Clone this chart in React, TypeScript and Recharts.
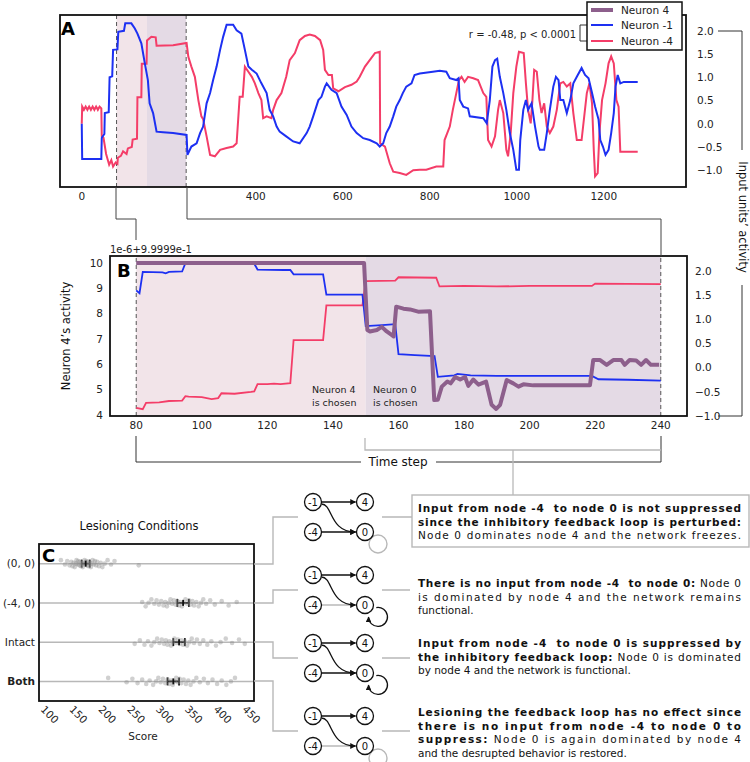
import React from 'react';
import {
  LineChart,
  Line,
  XAxis,
  YAxis,
  ReferenceArea,
  ReferenceLine,
  ScatterChart,
  Scatter,
  ErrorBar,
} from 'recharts';

const FONT = '"DejaVu Sans", sans-serif';
const BLUE = '#1d30f2';
const RED = '#f43d68';
const PURPLE = '#8d5f8c';
const PINK = '#f2e4e9';
const MAUVE = '#e4dae5';
const LIGHT = '#b8b8b8';

// ---- Panel A: input units over the whole run [time, activity]
const aTicks = [0, 400, 600, 800, 1000, 1200];
const activityTicks = [-1, -0.5, 0, 0.5, 1, 1.5, 2];

const aNeuronM1: [number, number][] = [
  [0, 0.0], [1, -0.76], [45, -0.76], [46, -0.3], [52, -0.22], [53, 0.23], [62, 0.25], [64, 1.0], [70, 1.02],
  [72, 1.59], [82, 1.6], [84, 1.98], [97, 2.0], [100, 2.16], [114, 2.16], [122, 2.05], [128, 1.94], [137, 1.73],
  [145, 1.3], [152, 0.94], [156, 0.44], [164, 0.23], [172, -0.17], [187, -0.18], [210, -0.2], [241, -0.24],
  [243, -0.67], [252, -0.49], [264, -0.42], [272, -0.2], [279, -0.06], [287, 0.44], [295, 0.66], [302, 0.94],
  [310, 1.23], [318, 1.59], [325, 1.87], [333, 2.13], [348, 2.13], [356, 2.01], [367, 1.94], [375, 1.59],
  [383, 1.23], [391, 1.16], [402, 1.08], [413, 0.87], [425, 0.66], [432, 0.3], [440, 0.16], [448, -0.06],
  [455, -0.17], [470, -0.27], [486, -0.38], [501, -0.42], [517, -0.2], [524, -0.06], [532, 0.16], [544, 0.51],
  [551, 0.58], [559, 0.8], [563, 0.87], [574, 0.73], [586, 0.66], [597, 0.37], [609, 0.19], [620, -0.06],
  [632, -0.2], [647, -0.31], [662, -0.35], [678, -0.42], [685, -0.49], [693, -0.42], [700, -0.2], [708, -0.06],
  [716, 0.16], [723, 0.37], [731, 0.51], [738, 0.66], [746, 0.8], [758, 0.87], [765, 1.05], [777, 1.08],
  [807, 1.12], [823, 1.14], [838, 1.12], [846, 0.98], [861, 0.94], [866, 0.98], [869, 0.51], [877, 0.37],
  [888, 0.33], [892, 0.16], [923, 0.12], [931, 0.01], [938, 0.51], [944, 1.23], [950, 1.37], [955, 1.4],
  [961, 1.01], [969, 0.66], [976, 0.3], [984, -0.2], [992, -0.56], [999, -0.99], [1005, -0.99], [1008, -0.35],
  [1015, 0.3], [1021, 0.51], [1026, 0.3], [1034, 0.44], [1042, -0.06], [1050, -0.49], [1053, -0.56],
  [1063, -0.56], [1069, -0.2], [1076, 0.3], [1084, 0.8], [1090, 1.01], [1096, 0.94], [1100, 0.51],
  [1107, 0.51], [1115, 0.23], [1123, 0.51], [1130, 0.87], [1138, 1.01], [1149, 1.2], [1157, 1.05],
  [1165, 0.98], [1173, 0.66], [1180, 0.37], [1188, 0.09], [1192, -0.35], [1198, -0.49], [1204, -0.67],
  [1211, -0.56], [1217, -0.2], [1223, 0.23], [1227, 0.8], [1232, 1.05], [1238, 0.87], [1246, 0.9], [1278, 0.9],
];

const aNeuronM4: [number, number][] = [
  [0, 0.0], [1, 0.37], [5, 0.3], [9, 0.37], [13, 0.3], [17, 0.37], [21, 0.3], [25, 0.37], [29, 0.3], [33, 0.37],
  [37, 0.3], [41, 0.37], [45, 0.33], [46, -0.27], [50, -0.3], [56, -0.65], [63, -0.88], [68, -0.78], [72, -0.92],
  [78, -0.83], [82, -0.86], [83, -0.73], [90, -0.69], [95, -0.59], [103, -0.65], [106, -0.53], [115, -0.5],
  [117, -0.34], [127, -0.32], [128, 0.57], [137, 0.57], [138, 1.29], [149, 1.29], [150, 1.79], [160, 1.87],
  [170, 1.86], [172, 1.68], [210, 1.69], [241, 1.74], [245, 1.44], [252, 1.23], [260, 1.01], [268, 0.51],
  [275, 0.16], [279, 0.1], [287, -0.27], [295, -0.67], [306, -0.7], [318, -0.56], [333, -0.52], [348, -0.49],
  [356, -0.42], [363, 0.58], [370, 0.58], [375, 1.23], [383, 1.12], [391, 1.01], [398, 0.87], [406, 0.66],
  [413, 0.51], [417, 0.12], [425, 0.16], [436, 0.12], [440, 0.3], [448, 0.51], [459, 0.66], [470, 1.01],
  [478, 1.37], [490, 1.52], [501, 1.8], [513, 1.89], [524, 1.92], [536, 1.89], [548, 1.8], [555, 1.59],
  [559, 1.16], [567, 1.05], [575, 1.05], [578, 0.76], [590, 0.7], [605, 0.79], [620, 0.84], [632, 0.91],
  [639, 1.01], [651, 1.23], [662, 1.37], [674, 1.52], [685, 1.55], [686, -0.42], [697, -0.49], [708, -0.85],
  [716, -1.03], [731, -1.06], [746, -1.1], [762, -1.0], [777, -0.99], [792, -0.99], [815, -0.92], [831, -0.92],
  [834, -0.35], [846, -0.06], [853, 0.3], [861, 0.66], [867, 0.94], [873, 1.01], [880, 0.9], [888, 1.01],
  [900, 0.98], [911, 0.94], [923, 0.66], [930, 0.58], [934, -0.35], [942, -0.49], [950, -0.27], [957, 0.3],
  [961, 0.51], [969, 0.23], [976, -0.56], [980, -0.7], [986, -0.2], [992, 0.66], [999, 1.23], [1005, 1.55],
  [1016, 1.52], [1021, 0.87], [1026, 0.3], [1032, 0.01], [1036, 0.51], [1040, 1.16], [1046, 1.12],
  [1052, 0.51], [1057, 0.23], [1063, 0.44], [1069, -0.06], [1076, -0.2], [1084, -0.06], [1092, 0.3],
  [1100, 0.87], [1107, 0.9], [1115, 0.8], [1123, 0.87], [1130, 0.23], [1138, -0.35], [1149, -0.35],
  [1161, 0.66], [1167, 0.87], [1173, 0.44], [1177, -0.56], [1180, -1.13], [1186, -1.06], [1190, -0.2],
  [1196, 0.51], [1204, 0.87], [1211, 1.3], [1217, 1.45], [1223, 1.3], [1229, 0.51], [1234, 0.37],
  [1238, -0.6], [1278, -0.6],
];

// ---- Panel B: time steps 80..240
const bTicks = [80, 100, 120, 140, 160, 180, 200, 220, 240];
const bNeuron4Ticks = [4, 5, 6, 7, 8, 9, 10];

// neuron 4 activity (left axis, offset units)
const bNeuron4: [number, number][] = [
  [80, 10.0], [149.5, 10.0], [150.5, 7.36], [151.3, 7.3], [153.4, 7.36], [154.9, 7.48], [156.4, 7.3],
  [158, 7.15], [158.5, 7.1], [159.3, 8.28], [161.5, 8.2], [163.5, 8.17], [166, 8.08], [169.6, 8.1],
  [170.9, 4.59], [172, 4.6], [173.2, 5.12], [174.9, 5.32], [175.9, 5.25], [177.3, 5.5], [178.8, 5.4],
  [180.3, 5.5], [181.3, 5.15], [182.8, 5.4], [184.4, 5.2], [186.7, 5.32], [188.4, 4.4], [189.8, 4.24],
  [191, 4.4], [193, 5.38], [195, 5.25], [196.6, 5.12], [198.1, 5.21], [201.1, 5.17], [210, 5.17],
  [218.4, 5.17], [219.4, 6.17], [221.5, 6.17], [223.5, 5.98], [225.5, 6.17], [228, 6.17], [229, 5.98],
  [230.5, 6.17], [232.5, 6.15], [234, 5.98], [235.5, 6.17], [237, 5.98], [239.5, 5.98],
];

const bNeuronM1: [number, number][] = [
  [80, 1.6], [81, 1.54], [82, 1.98], [88, 1.97], [89, 1.95], [90, 1.98], [94, 1.99], [95, 2.16], [100, 2.15],
  [105, 2.15], [110, 2.14], [116, 2.15], [117, 2.03], [125, 2.02], [127, 2.02], [128, 1.93], [137, 1.93],
  [138, 1.51], [149, 1.51], [150, 0.86], [155, 0.88], [159, 0.9], [160, 0.28], [165, 0.26], [171, 0.24],
  [172, -0.19], [177, -0.16], [178, -0.13], [182, -0.16], [190, -0.17], [200, -0.17], [210, -0.17],
  [219, -0.17], [221, -0.24], [230, -0.25], [240, -0.27],
];

const bNeuronM4: [number, number][] = [
  [80, -0.83], [82, -0.86], [83, -0.73], [87, -0.72], [90, -0.69], [94, -0.68], [95, -0.59], [96, -0.6],
  [100, -0.61], [103, -0.65], [105, -0.63], [106, -0.53], [110, -0.54], [115, -0.5], [116, -0.49],
  [117, -0.34], [120, -0.34], [122, -0.33], [124, -0.34], [127, -0.32], [128, 0.57], [137, 0.57],
  [138, 1.29], [149, 1.29], [150, 1.79], [159, 1.8], [160, 1.87], [171.5, 1.86], [172.5, 1.68], [180, 1.69],
  [190, 1.68], [200, 1.69], [219, 1.69], [220, 1.74], [240, 1.73],
];

// ---- Panel C: lesioning scores
const conditions = ['(0, 0)', '(-4, 0)', 'Intact', 'Both'];
const scoresLesion00 = [
  131, 138, 142, 146, 149, 151, 153, 155, 157, 158, 160, 161, 163, 164, 166, 167, 169, 170, 172, 173,
  175, 176, 178, 179, 181, 183, 184, 186, 188, 190, 192, 194, 197, 200, 203, 207, 212, 218, 224, 266,
];
const scoresLesionM40 = [
  272, 278, 283, 288, 293, 297, 301, 305, 309, 312, 315, 318, 321, 324, 327, 330, 333, 336, 338, 341,
  344, 347, 350, 353, 356, 359, 362, 366, 370, 374, 378, 383, 390, 398, 410, 422, 436,
];
const scoresIntact = [
  259, 268, 276, 282, 288, 293, 298, 302, 306, 310, 313, 316, 319, 322, 325, 328, 331, 334, 337, 340,
  343, 346, 350, 354, 358, 362, 367, 372, 378, 385, 392, 400, 408, 417, 428, 440, 450,
];
const scoresBoth = [
  213, 245, 255, 264, 272, 279, 285, 291, 296, 300, 304, 308, 312, 316, 319, 322, 325, 328, 331, 334,
  337, 340, 344, 348, 352, 356, 361, 366, 372, 379, 386, 394, 402, 410, 418, 426, 433,
];
const meanScores = [174, 343, 336, 326];
const semScores = [7, 10, 10, 10];
const scoreTicks = [100, 150, 200, 250, 300, 350, 400, 450];

const toPts = (arr: [number, number][]) => arr.map(([t, v]) => ({ t, v }));
const fmtAct = (v: number) => v.toFixed(1).replace('-', '\u2212');

const tickStyle = { fontSize: 10.5, fill: '#222', fontFamily: FONT };

// strip plot: small deterministic vertical spread around each condition row
const stripPts = [scoresLesion00, scoresLesionM40, scoresIntact, scoresBoth].flatMap((arr, ci) =>
  arr.map((s, i) => ({ x: s, y: ci + (((i * 5 + ci * 3) % 9) - 4) * 0.022 }))
);
const meanPts = meanScores.map((m, i) => ({ x: m, y: i, err: semScores[i] }));

const PanelA = () => (
  <LineChart width={750} height={210} margin={{ top: 15, right: 14, bottom: 3, left: 60 }}>
    <XAxis
      type="number"
      dataKey="t"
      domain={[-50, 1389]}
      ticks={aTicks}
      interval={0}
      allowDataOverflow
      axisLine={false}
      tickLine={false}
      tickSize={0}
      tickMargin={6}
      height={20}
      tick={tickStyle}
    />
    <YAxis
      yAxisId="r"
      orientation="right"
      type="number"
      domain={[-1.36, 2.34]}
      ticks={activityTicks}
      interval={0}
      allowDataOverflow
      axisLine={false}
      tickLine={false}
      tickSize={0}
      tickMargin={11}
      width={50}
      tick={{ ...tickStyle, textAnchor: 'start' }}
      tickFormatter={fmtAct}
    />
    <ReferenceArea yAxisId="r" x1={80} x2={150} fill={PINK} fillOpacity={1} stroke="none" />
    <ReferenceArea yAxisId="r" x1={150} x2={240} fill={MAUVE} fillOpacity={1} stroke="none" />
    <ReferenceLine yAxisId="r" x={80} stroke="#555" strokeDasharray="4 3" />
    <ReferenceLine yAxisId="r" x={240} stroke="#555" strokeDasharray="4 3" />
    <Line yAxisId="r" data={toPts(aNeuronM4)} dataKey="v" type="linear" stroke={RED} strokeWidth={2}
      dot={false} isAnimationActive={false} />
    <Line yAxisId="r" data={toPts(aNeuronM1)} dataKey="v" type="linear" stroke={BLUE} strokeWidth={2}
      dot={false} isAnimationActive={false} />
  </LineChart>
);

const PanelB = () => (
  <LineChart width={750} height={220} margin={{ top: 20, right: 13, bottom: 15, left: 50 }}>
    <XAxis
      type="number"
      dataKey="t"
      domain={[72, 248]}
      ticks={bTicks}
      interval={0}
      allowDataOverflow
      axisLine={false}
      tickLine={false}
      tickSize={0}
      tickMargin={6}
      height={25}
      tick={tickStyle}
    />
    <YAxis
      yAxisId="l"
      type="number"
      domain={[3.96, 10.28]}
      ticks={bNeuron4Ticks}
      interval={0}
      allowDataOverflow
      axisLine={false}
      tickLine={false}
      tickSize={0}
      tickMargin={7}
      width={60}
      tick={tickStyle}
    />
    <YAxis
      yAxisId="r"
      orientation="right"
      type="number"
      domain={[-1.0, 2.31]}
      ticks={activityTicks}
      interval={0}
      allowDataOverflow
      axisLine={false}
      tickLine={false}
      tickSize={0}
      tickMargin={8}
      width={50}
      tick={{ ...tickStyle, textAnchor: 'start' }}
      tickFormatter={fmtAct}
    />
    <ReferenceArea yAxisId="l" x1={80} x2={150} fill={PINK} fillOpacity={1} stroke="none" />
    <ReferenceArea yAxisId="l" x1={150} x2={240} fill={MAUVE} fillOpacity={1} stroke="none" />
    <ReferenceLine yAxisId="l" x={80} stroke="#555" strokeDasharray="4 3" />
    <ReferenceLine yAxisId="l" x={240} stroke="#555" strokeDasharray="4 3" />
    <Line yAxisId="r" data={toPts(bNeuronM4)} dataKey="v" type="linear" stroke={RED} strokeWidth={1.8}
      dot={false} isAnimationActive={false} />
    <Line yAxisId="r" data={toPts(bNeuronM1)} dataKey="v" type="linear" stroke={BLUE} strokeWidth={1.8}
      dot={false} isAnimationActive={false} />
    <Line yAxisId="l" data={toPts(bNeuron4)} dataKey="v" type="linear" stroke={PURPLE} strokeWidth={4}
      strokeLinejoin="round" dot={false} isAnimationActive={false} />
  </LineChart>
);

const ScoreTick = (props: any) => {
  const { x, y, payload } = props;
  const tx = x - 3;
  const ty = y + 9;
  return (
    <text x={tx} y={ty} transform={`rotate(45 ${tx} ${ty})`} textAnchor="start" fontSize={10.5}
      fill="#222" fontFamily={FONT}>
      {payload.value}
    </text>
  );
};

const ConditionTick = (props: any) => {
  const { x, y, payload } = props;
  return (
    <text x={x} y={y} dy="0.35em" textAnchor="end" fontSize={10.5} fill="#222" fontFamily={FONT}
      fontWeight={payload.value === 3 ? 'bold' : 'normal'}>
      {conditions[payload.value]}
    </text>
  );
};

const stripDot = (p: any) => <circle cx={p.cx} cy={p.cy} r={2.3} fill="#8a8a8a" fillOpacity={0.4} />;
const meanMark = (p: any) => (
  <line x1={p.cx} x2={p.cx} y1={p.cy - 3} y2={p.cy + 3} stroke="#111" strokeWidth={1.8} />
);

const PanelC = () => (
  <ScatterChart width={300} height={260} margin={{ top: 44, right: 46, bottom: 19, left: 0 }}>
    <XAxis
      type="number"
      dataKey="x"
      domain={[93, 466]}
      ticks={scoreTicks}
      interval={0}
      allowDataOverflow
      axisLine={false}
      tickLine={false}
      tickSize={0}
      tickMargin={0}
      height={40}
      tick={<ScoreTick />}
    />
    <YAxis
      type="number"
      dataKey="y"
      domain={[-0.5, 3.5]}
      reversed
      ticks={[0, 1, 2, 3]}
      interval={0}
      allowDataOverflow
      axisLine={false}
      tickLine={false}
      tickSize={0}
      tickMargin={4}
      width={39}
      tick={<ConditionTick />}
    />
    {conditions.map((c, i) => (
      <ReferenceLine key={c} y={i} stroke={LIGHT} strokeWidth={1.5} />
    ))}
    <Scatter data={stripPts} shape={stripDot} isAnimationActive={false} />
    <Scatter data={meanPts} shape={meanMark} isAnimationActive={false}>
      <ErrorBar dataKey="err" direction="x" width={4} stroke="#111" strokeWidth={1.8} />
    </Scatter>
  </ScatterChart>
);

// small network diagram: nodes -1, 4, -4, 0
const Diagram = ({ y, inputCut, loopCut }: { y: number; inputCut: boolean; loopCut: boolean }) => {
  const xl = 313;
  const xr = 365;
  const yb = y + 30;
  const node = (cx: number, cy: number, label: string) => (
    <g>
      <circle cx={cx} cy={cy} r={8.5} fill="#fff" stroke="#111" strokeWidth={1.3} />
      <text x={cx} y={cy} dy="0.36em" textAnchor="middle" fontSize={10} fill="#111">{label}</text>
    </g>
  );
  return (
    <g>
      {loopCut ? (
        <circle cx={xr + 13} cy={yb + 12} r={9} fill="none" stroke={LIGHT} strokeWidth={1.4} />
      ) : (
        <path d={`M ${xr + 11.3} ${yb + 2.6} A 9.5 9.5 0 1 1 ${xr + 3.5} ${yb + 12}`} fill="none"
          stroke="#111" strokeWidth={1.3} markerEnd="url(#ah)" />
      )}
      <line x1={xl + 9} y1={y} x2={xr - 9.5} y2={y} stroke="#111" strokeWidth={1.3} markerEnd="url(#ah)" />
      <line x1={xl + 9} y1={yb} x2={xr - 9.5} y2={yb} stroke={inputCut ? LIGHT : '#111'} strokeWidth={1.3}
        markerEnd={inputCut ? undefined : 'url(#ah)'} />
      <path d={`M ${xl + 8.5} ${y + 2} C ${xl + 20} ${y + 2}, ${xl + 16} ${yb}, ${xr - 9.5} ${yb}`} fill="none"
        stroke="#111" strokeWidth={1.3} markerEnd="url(#ah)" />
      {node(xl, y, '-1')}
      {node(xr, y, '4')}
      {node(xl, yb, '-4')}
      {node(xr, yb, '0')}
    </g>
  );
};

type Ln = { b?: string; r?: string; full?: boolean };
const Para = ({ x, y, lines }: { x: number; y: number; lines: Ln[] }) => (
  <g>
    {lines.map((ln, i) => (
      <text key={i} x={x} y={y + i * 13.5} fontSize={10.5} fill="#111"
        textLength={ln.full ? 323 : undefined} lengthAdjust="spacing" style={{ whiteSpace: 'pre' }}>
        {ln.b ? <tspan fontWeight="bold">{ln.b}</tspan> : null}
        {ln.r ? <tspan>{ln.r}</tspan> : null}
      </text>
    ))}
  </g>
);

const Overlay = () => (
  <svg width={750} height={762} fontFamily={FONT}
    style={{ position: 'absolute', left: 0, top: 0, pointerEvents: 'none' }}>
    <defs>
      <marker id="ah" viewBox="0 0 10 10" refX="9" refY="5" markerWidth="4.5" markerHeight="4.5"
        orient="auto">
        <path d="M0,0 L10,5 L0,10 z" fill="#111" />
      </marker>
    </defs>

    {/* frames */}
    <rect x={60} y={15} width={626} height={172} fill="none" stroke="#111" strokeWidth={1.8} />
    <rect x={110} y={256} width={577} height={160} fill="none" stroke="#111" strokeWidth={1.8} />
    <rect x={39} y={544} width={215} height={157} fill="none" stroke="#111" strokeWidth={1.8} />

    {/* panel letters */}
    <text x={61} y={35} fontSize={18} fontWeight={900} fill="#000">A</text>
    <text x={117} y={277} fontSize={18} fontWeight={900} fill="#000">B</text>
    <text x={42} y={562} fontSize={18} fontWeight={900} fill="#000">C</text>

    {/* legend */}
    <text x={576} y={38} fontSize={10} textAnchor="end" fill="#222">r = -0.48, p &lt; 0.0001</text>
    <polyline points="587,25 580,25 580,41 587,41" fill="none" stroke="#333" strokeWidth={1} />
    <rect x={587} y={2} width={95} height={48} fill="#fff" stroke="#111" strokeWidth={1.5} />
    <line x1={591} x2={613} y1={10} y2={10} stroke={PURPLE} strokeWidth={4} />
    <line x1={591} x2={613} y1={25} y2={25} stroke={BLUE} strokeWidth={2} />
    <line x1={591} x2={613} y1={41} y2={41} stroke={RED} strokeWidth={2} />
    <text x={621} y={14} fontSize={10.5} fill="#222">Neuron 4</text>
    <text x={621} y={29} fontSize={10.5} fill="#222">Neuron -1</text>
    <text x={621} y={45} fontSize={10.5} fill="#222">Neuron -4</text>

    {/* input units bracket */}
    <polyline points="718,31 742,31 742,150" fill="none" stroke="#333" strokeWidth={1} />
    <polyline points="742,285 742,416 718,416" fill="none" stroke="#333" strokeWidth={1} />
    <text x={743} y={217} fontSize={11.5} textAnchor="middle" dy="0.35em" fill="#111"
      transform="rotate(90 743 217)">Input units’ activity</text>

    {/* A -> B zoom connectors */}
    <polyline points="116,187 116,219 136,219 136,240" fill="none" stroke="#444" strokeWidth={1} />
    <polyline points="187,187 187,219 661,219 661,256" fill="none" stroke="#444" strokeWidth={1} />

    {/* panel B texts */}
    <text x={110} y={253} fontSize={10} fill="#222">1e-6+9.9999e-1</text>
    <text x={66} y={336} fontSize={11.5} textAnchor="middle" dy="0.35em" fill="#111"
      transform="rotate(-90 66 336)">Neuron 4’s activity</text>
    <text x={312} y={393} fontSize={9.5} fill="#222">Neuron 4</text>
    <text x={312} y={406} fontSize={9.5} fill="#222">is chosen</text>
    <text x={373} y={393} fontSize={9.5} fill="#222">Neuron 0</text>
    <text x={373} y={406} fontSize={9.5} fill="#222">is chosen</text>

    {/* time step bracket */}
    <polyline points="136,436 136,462 361,462" fill="none" stroke="#333" strokeWidth={1} />
    <polyline points="436,462 661,462 661,436" fill="none" stroke="#333" strokeWidth={1} />
    <text x={398} y={466} fontSize={12} textAnchor="middle" fill="#111">Time step</text>
    <polyline points="365,438 365,450 661,450" fill="none" stroke={LIGHT} strokeWidth={1.3} />
    <line x1={513} x2={513} y1={450} y2={495} stroke={LIGHT} strokeWidth={1.3} />

    {/* panel C titles */}
    <text x={139} y={530} fontSize={11.5} textAnchor="middle" fill="#111">Lesioning Conditions</text>
    <text x={143} y={740} fontSize={10.5} textAnchor="middle" fill="#222">Score</text>

    {/* condition connectors */}
    <path d="M254 564 H273 V517 H298 M254 603 H273 V590 H298 M254 642 H273 V658 H298 M254 681 H273 V731 H298"
      fill="none" stroke={LIGHT} strokeWidth={1.4} />
    <path d="M382 517 H412 M382 590 H410 M382 658 H410 M382 731 H410" fill="none" stroke={LIGHT}
      strokeWidth={1.4} />

    <Diagram y={502} inputCut={false} loopCut={true} />
    <Diagram y={575} inputCut={true} loopCut={false} />
    <Diagram y={643} inputCut={false} loopCut={false} />
    <Diagram y={716} inputCut={true} loopCut={true} />

    <rect x={412} y={495} width={337} height={52} fill="#fff" stroke={LIGHT} strokeWidth={1.4} />
    <Para x={418} y={512} lines={[
      { b: 'Input from node -4  to node 0 is not suppressed', full: true },
      { b: 'since the inhibitory feedback loop is perturbed:', full: true },
      { r: 'Node 0 dominates node 4 and the network freezes.', full: true },
    ]} />
    <Para x={418} y={587} lines={[
      { b: 'There is no input from node -4  to node 0:', r: ' Node 0', full: true },
      { r: 'is dominated by node 4 and the network remains', full: true },
      { r: 'functional.' },
    ]} />
    <Para x={418} y={647} lines={[
      { b: 'Input from node -4  to node 0 is suppressed by', full: true },
      { b: 'the inhibitory feedback loop:', r: ' Node 0 is dominated', full: true },
      { r: 'by node 4 and the network is functional.' },
    ]} />
    <Para x={418} y={716} lines={[
      { b: 'Lesioning the feedback loop has no effect since', full: true },
      { b: 'there is no input from node -4 to node 0 to', full: true },
      { b: 'suppress:', r: ' Node 0 is again dominated by node 4', full: true },
      { r: 'and the desrupted behavior is restored.' },
    ]} />
  </svg>
);

export default function App() {
  return (
    <div style={{ position: 'absolute', left: 0, top: 0, width: 750, height: 762, background: '#fff',
      fontFamily: FONT }}>
      <div style={{ position: 'absolute', left: 0, top: 0 }}>
        <PanelA />
      </div>
      <div style={{ position: 'absolute', left: 0, top: 236 }}>
        <PanelB />
      </div>
      <div style={{ position: 'absolute', left: 0, top: 500 }}>
        <PanelC />
      </div>
      <Overlay />
    </div>
  );
}
